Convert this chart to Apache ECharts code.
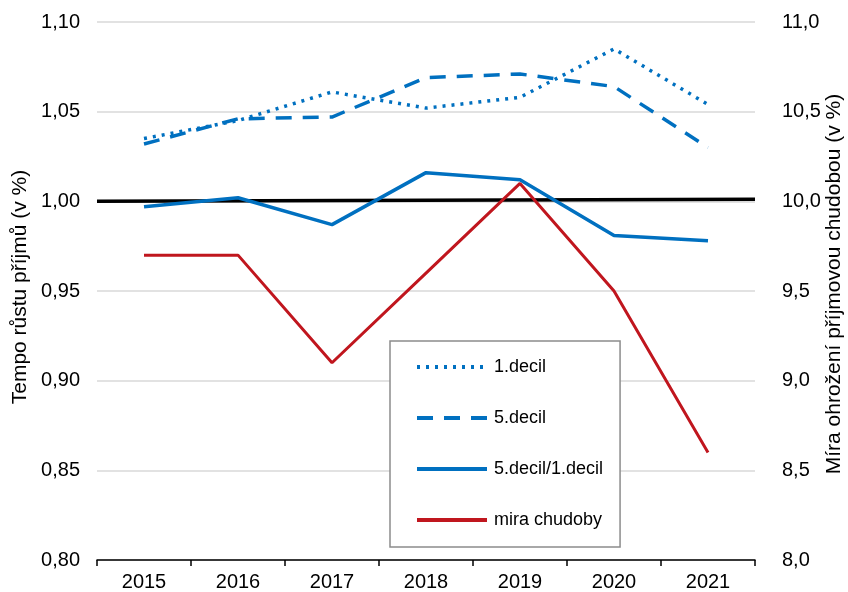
<!DOCTYPE html>
<html>
<head>
<meta charset="utf-8">
<script src="https://cdn.jsdelivr.net/npm/echarts@6/dist/echarts.min.js"></script>
<style>
  html, body { margin: 0; padding: 0; background: #fff; }
  #chart { width: 848px; height: 592px; }
</style>
</head>
<body>
<div id="chart"></div>
<script>
// roky
var years = ['2015', '2016', '2017', '2018', '2019', '2020', '2021'];

// tempo růstu příjmů (levá osa)
var decil1 = [1.035, 1.045, 1.061, 1.052, 1.058, 1.085, 1.054];
var decil5 = [1.032, 1.046, 1.047, 1.069, 1.071, 1.064, 1.030];
var ratio51 = [0.997, 1.002, 0.987, 1.016, 1.012, 0.981, 0.978];

// míra ohrožení chudobou (pravá osa)
var poverty = [9.7, 9.7, 9.1, 9.6, 10.1, 9.5, 8.6];

// referenční linka 1,00 přes celou šířku
var refLine = [[0, 1.000], [1, 1.0012]];

var blue = '#0070C0';
var red = '#C0161E';
var font = 'Liberation Sans, Arial, sans-serif';

var chart = echarts.init(document.getElementById('chart'));

chart.setOption({
  animation: false,
  textStyle: { fontFamily: font, color: '#000' },
  grid: { left: 97, right: 93, top: 22, bottom: 32 },
  legend: {
    orient: 'vertical',
    left: 390,
    top: 341,
    padding: [17, 17, 18, 25],
    itemWidth: 70,
    itemHeight: 14,
    itemGap: 33,
    borderColor: '#8c8c8c',
    borderWidth: 1.5,
    backgroundColor: '#fff',
    itemStyle: { opacity: 0 },
    lineStyle: { width: 4 },
    textStyle: { fontSize: 18, color: '#000', fontFamily: font, padding: [0, 0, 0, 2] },
    data: ['1.decil', '5.decil', '5.decil/1.decil', 'mira chudoby']
  },
  xAxis: [
    {
      type: 'category',
      data: years,
      boundaryGap: true,
      axisLine: { lineStyle: { color: '#000', width: 1.5 } },
      axisTick: { show: true, length: 6, lineStyle: { color: '#000', width: 1.5 } },
      axisLabel: { fontSize: 20, color: '#000', margin: 12 }
    },
    {
      type: 'value', min: 0, max: 1, show: false
    }
  ],
  yAxis: [
    {
      type: 'value',
      min: 0.80, max: 1.10, interval: 0.05,
      axisLine: { show: false },
      axisTick: { show: false },
      splitLine: { lineStyle: { color: '#d9d9d9', width: 1.5 } },
      axisLabel: {
        fontSize: 20, color: '#000', margin: 17,
        formatter: function (v) { return v.toFixed(2).replace('.', ','); }
      }
    },
    {
      type: 'value',
      min: 8.0, max: 11.0, interval: 0.5,
      axisLine: { show: false },
      axisTick: { show: false },
      splitLine: { show: false },
      axisLabel: {
        fontSize: 20, color: '#000', margin: 27,
        formatter: function (v) { return v.toFixed(1).replace('.', ','); }
      }
    }
  ],
  graphic: [
    {
      type: 'text', x: 20, y: 287, rotation: Math.PI / 2,
      style: {
        text: 'Tempo růstu příjmů (v %)', font: '21px ' + font, fill: '#000',
        align: 'center', verticalAlign: 'middle'
      }
    },
    {
      type: 'text', x: 834, y: 284, rotation: Math.PI / 2,
      style: {
        text: 'Míra ohrožení příjmovou chudobou (v %)', font: '21px ' + font, fill: '#000',
        align: 'center', verticalAlign: 'middle'
      }
    }
  ],
  series: [
    {
      name: 'ref', type: 'line', xAxisIndex: 1, yAxisIndex: 0,
      data: refLine, symbol: 'none', silent: true, z: 1,
      lineStyle: { color: '#000', width: 3.5 }
    },
    {
      name: '1.decil', type: 'line', data: decil1, symbol: 'none',
      lineStyle: { color: blue, width: 3.5, type: [3, 6] },
      itemStyle: { color: blue }
    },
    {
      name: '5.decil', type: 'line', data: decil5, symbol: 'none',
      lineStyle: { color: blue, width: 3.5, type: [16, 11] },
      itemStyle: { color: blue }
    },
    {
      name: '5.decil/1.decil', type: 'line', data: ratio51, symbol: 'none',
      lineStyle: { color: blue, width: 3.5 },
      itemStyle: { color: blue }
    },
    {
      name: 'mira chudoby', type: 'line', data: poverty, yAxisIndex: 1, symbol: 'none',
      lineStyle: { color: red, width: 3 },
      itemStyle: { color: red }
    }
  ]
});
</script>
</body>
</html>
